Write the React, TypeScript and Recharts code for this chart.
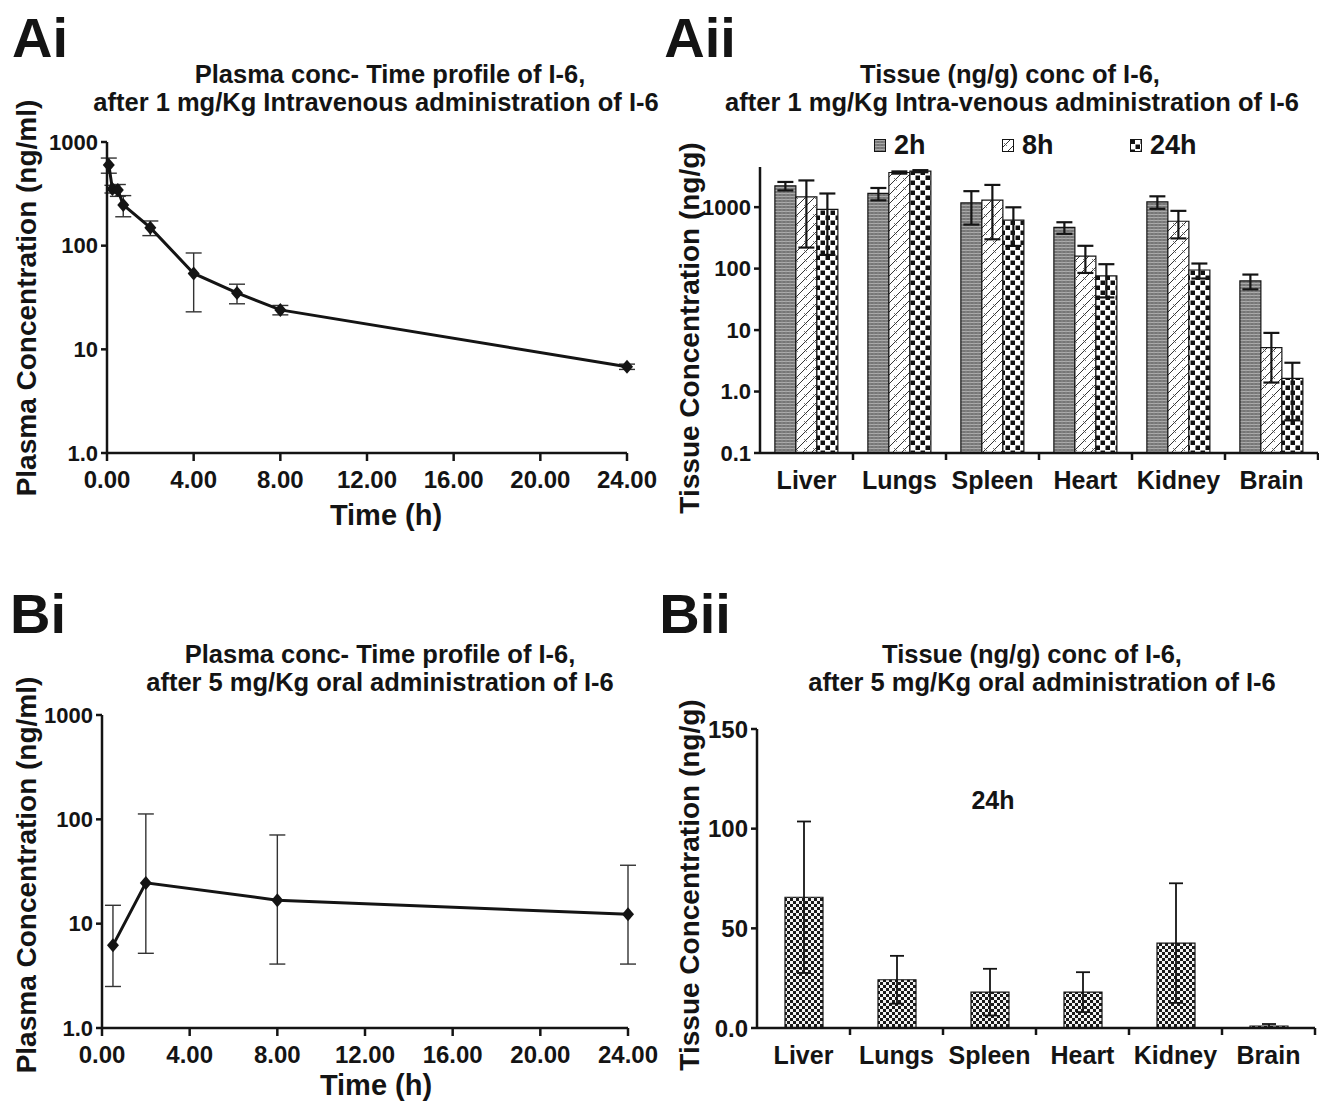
import { LineChart, Line, XAxis, YAxis, ErrorBar, BarChart, Bar } from 'recharts'

const FONT = "'Liberation Sans', Arial, Helvetica, sans-serif"
const INK = '#141414'

// Ai - plasma after 1 mg/Kg IV
const IV_TIME = [0.083, 0.25, 0.5, 0.75, 2, 4, 6, 8, 24]
const IV_CONC = [600, 352, 344, 247, 149, 54, 35, 24, 6.8]
const IV_SD = [100, 30, 45, 57, 24, 31, 7.5, 2.5, 0.4]

// Aii - tissue after 1 mg/Kg IV
const TISSUES = ['Liver', 'Lungs', 'Spleen', 'Heart', 'Kidney', 'Brain']
const IV_2H = [2220, 1670, 1170, 468, 1220, 63]
const IV_2H_SD = [350, 380, 650, 100, 280, 17]
const IV_8H = [1470, 3660, 1300, 160, 590, 5.2]
const IV_8H_SD = [1250, 150, 1000, 75, 280, 3.8]
const IV_24H = [917, 3850, 614, 76, 95, 1.64]
const IV_24H_SD = [750, 150, 380, 42, 26, 1.3]
const SERIES = [
  { key: 'h2', label: '2h', fill: 'url(#pat2h)' },
  { key: 'h8', label: '8h', fill: 'url(#pat8h)' },
  { key: 'h24', label: '24h', fill: 'url(#pat24h)' },
]

// Bi - plasma after 5 mg/Kg oral
const PO_TIME = [0.5, 2, 8, 24]
const PO_CONC = [6.2, 24.6, 16.8, 12.3]
const PO_ERR_LOW = [3.7, 19.4, 12.7, 8.2]
const PO_ERR_HIGH = [8.8, 88, 54, 24]

// Bii - tissue 24h after 5 mg/Kg oral
const PO_TISSUE = [65.6, 24.2, 18.0, 18.0, 42.6, 1.0]
const PO_TISSUE_SD = [38, 12, 11.7, 10, 30, 1]

const TIME_TICKS = [0, 4, 8, 12, 16, 20, 24]
const LOG_TICKS_PLASMA = [1, 10, 100, 1000]
const LOG_TICKS_TISSUE = [0.1, 1, 10, 100, 1000]
const LIN_TICKS_TISSUE = [0, 50, 100, 150]

const ivPlasma = IV_TIME.map((t, i) => ({ t, conc: IV_CONC[i], err: IV_SD[i] }))
const poPlasma = PO_TIME.map((t, i) => ({ t, conc: PO_CONC[i], err: [PO_ERR_LOW[i], PO_ERR_HIGH[i]] }))
const ivTissue = TISSUES.map((name, i) => ({
  name,
  h2: IV_2H[i], h2err: IV_2H_SD[i],
  h8: IV_8H[i], h8err: IV_8H_SD[i],
  h24: IV_24H[i], h24err: IV_24H_SD[i],
}))
const poTissue = TISSUES.map((name, i) => ({ name, v: PO_TISSUE[i], err: PO_TISSUE_SD[i] }))

const logFmt = (v: number) => (v === 1 ? '1.0' : v === 0.1 ? '0.1' : String(v))

function Txt({ x, y, size, rotate, children }: any) {
  return (
    <div
      style={{
        position: 'absolute', left: x, top: y, fontFamily: FONT, fontWeight: 700,
        fontSize: size, lineHeight: 1, color: INK, whiteSpace: 'nowrap',
        transform: `translate(-50%, -50%)${rotate ? ' rotate(-90deg)' : ''}`,
      }}
    >
      {children}
    </div>
  )
}

function Diamond(props: any) {
  const { cx, cy, index } = props
  if (cx == null || cy == null) return <g key={`dm-${index}`} />
  return (
    <path key={`dm-${index}`} d={`M${cx},${cy - 7}L${cx + 6},${cy}L${cx},${cy + 7}L${cx - 6},${cy}Z`} fill={INK} />
  )
}

// category tick: label at band centre, tick mark at band boundary (Prism style)
function catTick(band: number, size: number) {
  return (props: any) => {
    const { x, y, payload } = props
    return (
      <g>
        <line x1={x + band / 2} x2={x + band / 2} y1={y - 14} y2={y - 7} stroke={INK} strokeWidth={2.5} />
        <text x={x} y={y + 22} textAnchor="middle" fontFamily={FONT} fontWeight={700} fontSize={size} fill={INK}>
          {payload.value}
        </text>
      </g>
    )
  }
}

const axisLine = { stroke: INK, strokeWidth: 2.5 }
const tickStyle = { fontFamily: FONT, fontWeight: 700, fill: INK }

function Patterns() {
  return (
    <svg width={0} height={0} style={{ position: 'absolute' }}>
      <defs>
        <pattern id="pat2h" width="4" height="3" patternUnits="userSpaceOnUse">
          <rect width="4" height="3" fill="#767676" />
          <line x1="0" y1="1.5" x2="4" y2="1.5" stroke="#acacac" strokeWidth="1" />
          <line x1="2" y1="0" x2="2" y2="3" stroke="#929292" strokeWidth="0.6" />
        </pattern>
        <pattern id="pat8h" width="9" height="9" patternUnits="userSpaceOnUse">
          <rect width="9" height="9" fill="#fff" />
          <path d="M0,9 L9,0 M-2,2 L2,-2 M7,11 L11,7" stroke="#333" strokeWidth="1" />
          <path d="M2,4 L5,7" stroke="#555" strokeWidth="0.8" />
        </pattern>
        <pattern id="pat24h" width="10" height="10" patternUnits="userSpaceOnUse">
          <rect width="10" height="10" fill="#fff" />
          <rect x="0.5" y="0.5" width="4.5" height="4.5" fill="#111" />
          <rect x="5.5" y="5.5" width="4.5" height="4.5" fill="#111" />
        </pattern>
        <pattern id="patPo" width="6" height="6" patternUnits="userSpaceOnUse">
          <rect width="6" height="6" fill="#f4f4f4" />
          <rect x="0" y="0" width="3" height="3" fill="#1a1a1a" />
          <rect x="3" y="3" width="3" height="3" fill="#1a1a1a" />
        </pattern>
      </defs>
    </svg>
  )
}

export default function App() {
  return (
    <div style={{ position: 'absolute', left: 0, top: 0, width: 1319, height: 1102, background: '#fff', overflow: 'hidden' }}>
      <Patterns />

      {/* panel letters */}
      <Txt x={40} y={38} size={56}>Ai</Txt>
      <Txt x={700} y={38} size={56}>Aii</Txt>
      <Txt x={38} y={614} size={56}>Bi</Txt>
      <Txt x={695} y={614} size={56}>Bii</Txt>

      {/* titles */}
      <Txt x={390} y={75} size={25.5}>Plasma conc- Time profile of I-6,</Txt>
      <Txt x={376} y={103} size={25.5}>after 1 mg/Kg Intravenous administration of I-6</Txt>
      <Txt x={1010} y={75} size={25.5}>Tissue (ng/g) conc of I-6,</Txt>
      <Txt x={1012} y={103} size={25.5}>after 1 mg/Kg Intra-venous administration of I-6</Txt>
      <Txt x={380} y={655} size={25.5}>Plasma conc- Time profile of I-6,</Txt>
      <Txt x={380} y={683} size={25.5}>after 5 mg/Kg oral administration of I-6</Txt>
      <Txt x={1032} y={655} size={25.5}>Tissue (ng/g) conc of I-6,</Txt>
      <Txt x={1042} y={683} size={25.5}>after 5 mg/Kg oral administration of I-6</Txt>

      {/* axis titles */}
      <Txt x={27} y={298} size={28} rotate>Plasma Concentration (ng/ml)</Txt>
      <Txt x={386} y={515} size={29}>Time (h)</Txt>
      <Txt x={690} y={328} size={28} rotate>Tissue Concentration (ng/g)</Txt>
      <Txt x={27} y={875} size={28} rotate>Plasma Concentration (ng/ml)</Txt>
      <Txt x={376} y={1085} size={29}>Time (h)</Txt>
      <Txt x={690} y={885} size={28} rotate>Tissue Concentration (ng/g)</Txt>

      {/* Aii legend */}
      {SERIES.map((s, i) => (
        <div key={s.key} style={{ position: 'absolute', left: 874 + i * 128, top: 130, display: 'flex', alignItems: 'center', fontFamily: FONT, fontWeight: 700, fontSize: 27, color: INK }}>
          <svg width={12} height={13} style={{ marginRight: 8 }}>
            <rect x={0.5} y={0.5} width={11} height={12} fill={s.fill} stroke={INK} strokeWidth={1} />
          </svg>
          {s.label}
        </div>
      ))}

      <Txt x={993} y={800} size={25}>24h</Txt>

      {/* Ai */}
      <div style={{ position: 'absolute', left: 0, top: 120 }}>
        <LineChart width={660} height={400} data={ivPlasma} margin={{ top: 22, right: 33, bottom: 27, left: 0 }}>
          <XAxis
            type="number" dataKey="t" domain={[0, 24]} ticks={TIME_TICKS}
            tickFormatter={(v: number) => v.toFixed(2)} axisLine={axisLine} tickLine={axisLine}
            tickSize={8} tickMargin={10} height={40} tick={{ ...tickStyle, fontSize: 24 }}
          />
          <YAxis
            scale="log" domain={[1, 1000]} ticks={LOG_TICKS_PLASMA} allowDataOverflow
            tickFormatter={logFmt} axisLine={axisLine} tickLine={axisLine}
            tickSize={6} tickMargin={3} width={107} tick={{ ...tickStyle, fontSize: 22 }}
          />
          <Line dataKey="conc" stroke={INK} strokeWidth={3} dot={Diamond} isAnimationActive={false}>
            <ErrorBar dataKey="err" direction="y" width={8} stroke="#333" strokeWidth={1.4} isAnimationActive={false} />
          </Line>
        </LineChart>
      </div>

      {/* Aii */}
      <div style={{ position: 'absolute', left: 640, top: 120 }}>
        <BarChart width={679} height={400} data={ivTissue} barCategoryGap="16%" barGap={0} margin={{ top: 47, right: 1, bottom: 27, left: 0 }}>
          <XAxis dataKey="name" axisLine={axisLine} tickLine={false} tickSize={8} tickMargin={6} height={40} tick={catTick(93, 25)} interval={0} />
          <YAxis
            scale="log" domain={[0.1, 4500]} ticks={LOG_TICKS_TISSUE} allowDataOverflow
            tickFormatter={logFmt} axisLine={axisLine} tickLine={axisLine}
            tickSize={6} tickMargin={3} width={120} tick={{ ...tickStyle, fontSize: 22 }}
          />
          {SERIES.map(s => (
            <Bar key={s.key} dataKey={s.key} fill={s.fill} stroke={INK} strokeWidth={1.2} isAnimationActive={false}>
              <ErrorBar dataKey={`${s.key}err`} direction="y" width={8} stroke={INK} strokeWidth={2.2} isAnimationActive={false} />
            </Bar>
          ))}
        </BarChart>
      </div>

      {/* Bi */}
      <div style={{ position: 'absolute', left: 0, top: 700 }}>
        <LineChart width={660} height={402} data={poPlasma} margin={{ top: 15, right: 32, bottom: 34, left: 0 }}>
          <XAxis
            type="number" dataKey="t" domain={[0, 24]} ticks={TIME_TICKS}
            tickFormatter={(v: number) => v.toFixed(2)} axisLine={axisLine} tickLine={axisLine}
            tickSize={8} tickMargin={10} height={40} tick={{ ...tickStyle, fontSize: 24 }}
          />
          <YAxis
            scale="log" domain={[1, 1000]} ticks={LOG_TICKS_PLASMA} allowDataOverflow
            tickFormatter={logFmt} axisLine={axisLine} tickLine={axisLine}
            tickSize={6} tickMargin={3} width={102} tick={{ ...tickStyle, fontSize: 22 }}
          />
          <Line dataKey="conc" stroke={INK} strokeWidth={3} dot={Diamond} isAnimationActive={false}>
            <ErrorBar dataKey="err" direction="y" width={8} stroke="#333" strokeWidth={1.4} isAnimationActive={false} />
          </Line>
        </LineChart>
      </div>

      {/* Bii */}
      <div style={{ position: 'absolute', left: 640, top: 700 }}>
        <BarChart width={679} height={402} data={poTissue} barSize={38} margin={{ top: 29, right: 4, bottom: 34, left: 0 }}>
          <XAxis dataKey="name" axisLine={axisLine} tickLine={false} tickSize={8} tickMargin={6} height={40} tick={catTick(93, 25)} interval={0} />
          <YAxis
            type="number" domain={[0, 150]} ticks={LIN_TICKS_TISSUE}
            tickFormatter={(v: number) => (v === 0 ? '0.0' : String(v))} axisLine={axisLine} tickLine={axisLine}
            tickSize={6} tickMargin={3} width={117} tick={{ ...tickStyle, fontSize: 24 }}
          />
          <Bar dataKey="v" fill="url(#patPo)" stroke={INK} strokeWidth={1.2} isAnimationActive={false}>
            <ErrorBar dataKey="err" direction="y" width={7} stroke={INK} strokeWidth={1.8} isAnimationActive={false} />
          </Bar>
        </BarChart>
      </div>
    </div>
  )
}
